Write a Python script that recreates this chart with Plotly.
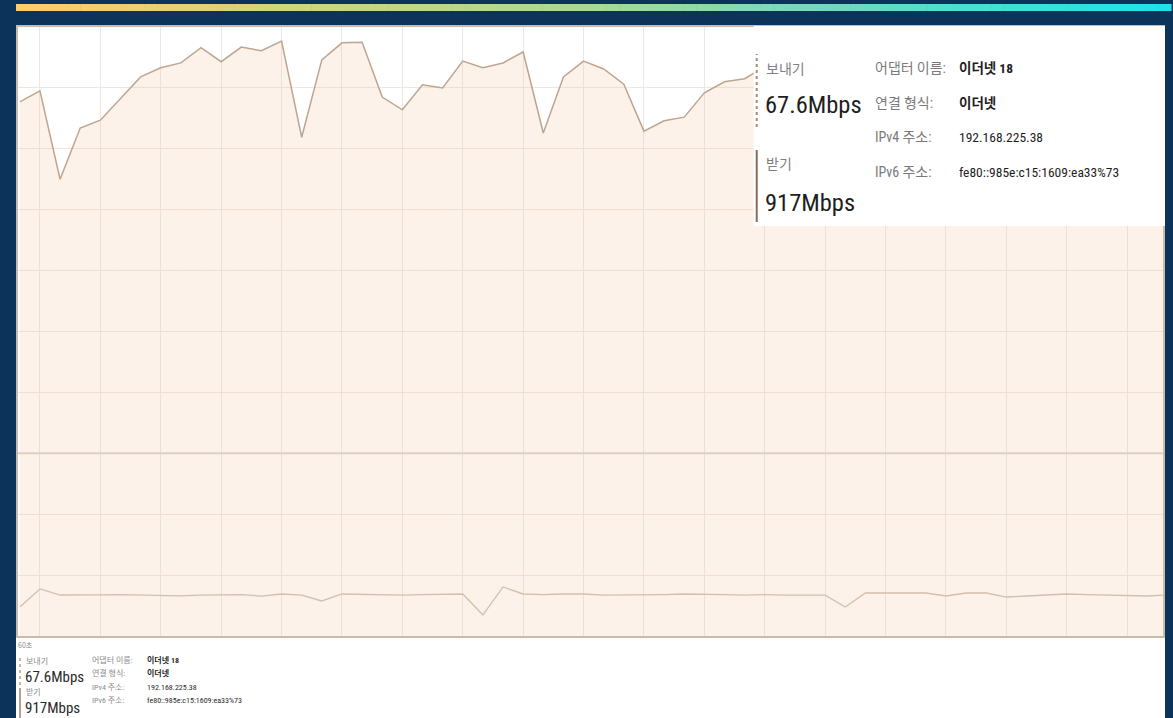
import plotly.graph_objects as go

# ---------------- data ----------------
seconds = list(range(58))
receive_mbps = [877, 895, 750, 834, 847, 883, 918, 933, 941, 966,
                943, 967, 961, 977, 819, 946, 974, 975, 885, 864,
                905, 900, 944, 933, 941, 959, 826, 918, 944, 931,
                906, 829, 846, 852, 892, 910, 915, 935, 945, 952,
                940, 960, 948, 955, 962, 950, 944, 958, 965, 950,
                940, 955, 948, 935, 942, 930, 925, 917]
send_mbps = [47.6, 77.2, 67.3, 67, 67.5, 68, 67, 67, 66, 67,
             68, 68, 65.5, 69, 67, 57.5, 69, 68, 67, 67,
             68, 69, 69, 34.5, 80.5, 69, 68, 69, 69, 67,
             67, 67, 68, 69, 69, 68, 67, 68, 67, 67,
             67, 47.6, 70.6, 70.6, 70, 70.6, 65.7, 70.6, 70.6, 64,
             65.7, 67, 69, 68, 67, 67, 65.7, 67.6]

send_label = "보내기"
recv_label = "받기"
send_value = "67.6Mbps"
recv_value = "917Mbps"
info_keys = ["어댑터 이름:", "연결 형식:", "IPv4 주소:", "IPv6 주소:"]
info_vals = ["이더넷 18", "이더넷", "192.168.225.38", "fe80::985e:c15:1609:ea33%73"]
time_label = "60초"

# ---------------- geometry helpers (pixel -> paper) ----------------
W, H = 1173, 718
L, R, T, B = 18, 1165, 27, 636


def px(x):
    return (x - L) / (R - L)


def py(y):
    return (B - y) / (B - T)


NAVY = "#0c3359"
LAT = "Liberation Sans Narrow, Roboto Condensed, Roboto, Noto Sans CJK KR, sans-serif"
KR = "Noto Sans CJK KR, Liberation Sans Narrow, sans-serif"

fig = go.Figure()

fig.add_trace(go.Scatter(
    x=seconds, y=receive_mbps, mode="lines",
    line=dict(color="#bfa590", width=1.5),
    fill="tozeroy", fillcolor="rgba(241,200,165,0.24)",
    hoverinfo="skip", showlegend=False))

fig.add_trace(go.Scatter(
    x=seconds, y=send_mbps, mode="lines",
    line=dict(color="#d5bfac", width=1.3),
    hoverinfo="skip", showlegend=False))

shapes = []
# white panel behind everything
shapes.append(dict(type="rect", xref="paper", yref="paper", layer="below",
                   x0=px(16), x1=px(1167), y0=py(718), y1=py(26),
                   fillcolor="white", line=dict(width=0)))
# gradient bar on top
stops = [(0.0, (253, 207, 100)), (0.5, (168, 217, 155)), (1.0, (28, 226, 236))]


def grad(t):
    for (a, ca), (b, cb) in zip(stops[:-1], stops[1:]):
        if a <= t <= b:
            f = (t - a) / (b - a)
            return tuple(int(ca[k] + (cb[k] - ca[k]) * f) for k in range(3))
    return stops[-1][1]


N = 90
x_start, x_end = 16, 1173
for k in range(N):
    xa = x_start + (x_end - x_start) * k / N
    xb = x_start + (x_end - x_start) * (k + 1) / N + 0.6
    c = grad((k + 0.5) / N)
    shapes.append(dict(type="rect", xref="paper", yref="paper", layer="below",
                       x0=px(xa), x1=px(xb), y0=py(11), y1=py(4),
                       fillcolor="rgb(%d,%d,%d)" % c, line=dict(width=0)))
# darker horizontal line at 300
shapes.append(dict(type="line", xref="paper", yref="y", x0=0, x1=1, y0=300, y1=300,
                   line=dict(color="#dfcfc1", width=2), layer="above"))
# overlay box (top right)
shapes.append(dict(type="rect", xref="paper", yref="paper", layer="above",
                   x0=px(755), x1=px(1167), y0=py(226), y1=py(26),
                   fillcolor="white", line=dict(width=0)))
shapes.append(dict(type="line", xref="paper", yref="paper", layer="above",
                   x0=px(758), x1=px(758), y0=py(127), y1=py(54),
                   line=dict(color="#a88b74", width=2, dash="dot")))
shapes.append(dict(type="line", xref="paper", yref="paper", layer="above",
                   x0=px(758), x1=px(758), y0=py(222), y1=py(150),
                   line=dict(color="#8a6a55", width=2)))
# small legend lines bottom
shapes.append(dict(type="line", xref="paper", yref="paper",
                   x0=px(20), x1=px(20), y0=py(685), y1=py(655),
                   line=dict(color="#b9a08c", width=1.5, dash="dot")))
shapes.append(dict(type="line", xref="paper", yref="paper",
                   x0=px(20), x1=px(20), y0=py(718), y1=py(688),
                   line=dict(color="#a07e6a", width=1.5)))

ann = []


def text(x, y, s, size, color, family, bold=False):
    if bold:
        s = "<b>" + s + "</b>"
    ann.append(dict(x=px(x), y=py(y), xref="paper", yref="paper", text=s,
                    showarrow=False, xanchor="left", yanchor="middle",
                    font=dict(size=size, color=color, family=family)))


# overlay texts
text(765, 68, send_label, 14, "#808080", KR)
text(764, 105, send_value, 24.5, "#1e1e1e", LAT)
text(765, 163, recv_label, 14, "#808080", KR)
text(764, 202, recv_value, 24.5, "#1e1e1e", LAT)
rows_y = [68, 103, 137, 172]
for yy, k, v in zip(rows_y, info_keys, info_vals):
    text(874, yy, k, 14, "#7a7a7a", LAT)
    text(959, yy, v, 13.5, "#1e1e1e", LAT, bold=(v.startswith("이더넷")))

# bottom mini texts
text(16, 645, time_label, 7, "#8a8a8a", KR)
text(24, 660, send_label, 8, "#8a8a8a", KR)
text(23, 677, send_value, 15, "#2a2a2a", LAT)
text(24, 692, recv_label, 8, "#8a8a8a", KR)
text(23, 708, recv_value, 15, "#2a2a2a", LAT)
mini_y = [660, 673, 687, 700]
for yy, k, v in zip(mini_y, info_keys, info_vals):
    text(90, yy, k, 8, "#8a8a8a", LAT)
    text(145, yy, v, 8, "#2a2a2a", LAT, bold=(v.startswith("이더넷")))

fig.update_layout(
    width=W, height=H,
    margin=dict(l=L, r=W - R, t=T, b=H - B, pad=0),
    paper_bgcolor=NAVY, plot_bgcolor="white",
    shapes=shapes, annotations=ann, showlegend=False,
    xaxis=dict(range=[-0.09, 56.78], tick0=1, dtick=3, showticklabels=False,
               ticks="", showgrid=True, gridcolor="#efe6de", gridwidth=1,
               zeroline=False, showline=True, mirror=True,
               linecolor="#cbb9a9", linewidth=1.5, fixedrange=True),
    yaxis=dict(range=[0, 1000], dtick=100, showticklabels=False, ticks="",
               showgrid=True, gridcolor="#efe6de", gridwidth=1,
               zeroline=False, showline=True, mirror=True,
               linecolor="#cbb9a9", linewidth=1.5, fixedrange=True),
)

fig.write_html(
    "out.html",
    config={"displayModeBar": False},
    post_script="document.body.style.margin='0px';"
                "document.body.style.background='#0c3359';"
                "document.body.style.overflow='hidden';",
)
